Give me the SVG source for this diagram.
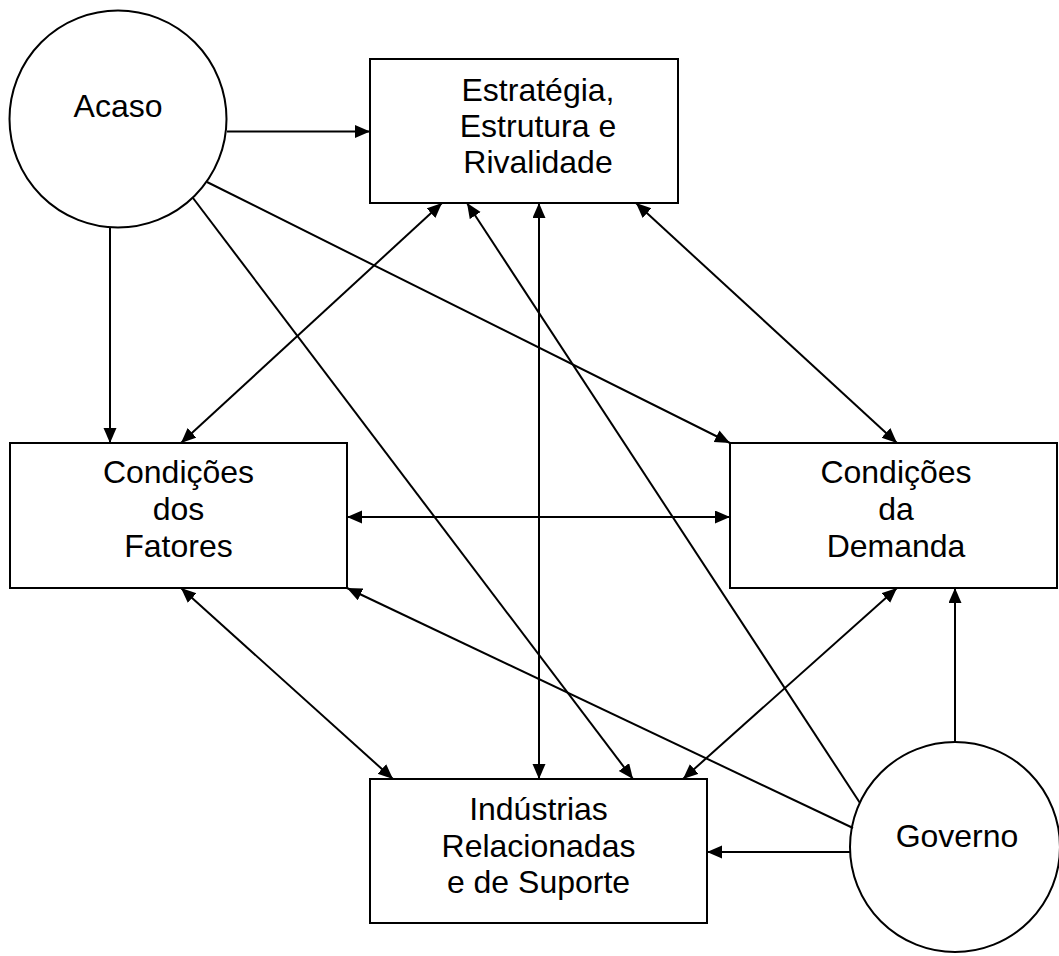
<svg xmlns="http://www.w3.org/2000/svg" width="1059" height="956" viewBox="0 0 1059 956">
<style>
.n{fill:#fff;stroke:#000;stroke-width:2}
.t{font-family:"Liberation Sans",Arial,sans-serif;font-size:32px;fill:#000;text-anchor:middle}
.c line{stroke:#000;stroke-width:2}
.a{marker-end:url(#ah)}
.d{marker-start:url(#ah);marker-end:url(#ah)}
</style>
<defs>
<marker id="ah" markerUnits="userSpaceOnUse" markerWidth="16" markerHeight="14" refX="15" refY="6.5" orient="auto-start-reverse">
<path d="M0,0 L15,6.5 L0,13 Z" fill="#000"/>
</marker>
</defs>
<rect width="1059" height="956" fill="#fff"/>
<g id="acaso"><circle class="n" cx="118" cy="119" r="108.5"/><text class="t" x="118" y="117">Acaso</text></g>
<g id="estrategia"><rect class="n" x="370" y="59" width="308" height="144"/>
<text class="t" x="538" y="101">Estratégia,</text><text class="t" x="538" y="137">Estrutura e</text><text class="t" x="538" y="173">Rivalidade</text></g>
<g id="fatores"><rect class="n" x="10" y="443" width="337" height="145"/>
<text class="t" x="178.5" y="483">Condições</text><text class="t" x="178.5" y="520">dos</text><text class="t" x="178.5" y="557">Fatores</text></g>
<g id="demanda"><rect class="n" x="730" y="443" width="327" height="145"/>
<text class="t" x="896" y="483">Condições</text><text class="t" x="896" y="520">da</text><text class="t" x="896" y="557">Demanda</text></g>
<g id="industrias"><rect class="n" x="370" y="779" width="337" height="144"/>
<text class="t" x="538.5" y="820">Indústrias</text><text class="t" x="538.5" y="857">Relacionadas</text><text class="t" x="538.5" y="893">e de Suporte</text></g>
<g id="governo"><circle class="n" cx="955" cy="847" r="105"/><text class="t" x="957" y="847">Governo</text></g>
<g id="connectors" class="c">
<line class="a" x1="227" y1="131.5" x2="370" y2="131.5"/>
<line class="a" x1="110" y1="227.5" x2="110" y2="443"/>
<line class="a" x1="193" y1="198" x2="633" y2="779"/>
<line class="a" x1="207" y1="182" x2="730" y2="443"/>
<line class="d" x1="181" y1="443" x2="442" y2="203"/>
<line class="d" x1="539" y1="203" x2="539" y2="779"/>
<line class="d" x1="636" y1="203" x2="897" y2="443"/>
<line class="d" x1="347" y1="517" x2="730" y2="517"/>
<line class="d" x1="181" y1="588" x2="393" y2="779"/>
<line class="d" x1="897" y1="588" x2="683" y2="779"/>
<line class="a" x1="860" y1="803" x2="467" y2="203"/>
<line class="a" x1="853" y1="828" x2="347" y2="588"/>
<line class="a" x1="955" y1="742" x2="955" y2="588"/>
<line class="a" x1="850" y1="852" x2="707" y2="852"/>
</g>
</svg>
